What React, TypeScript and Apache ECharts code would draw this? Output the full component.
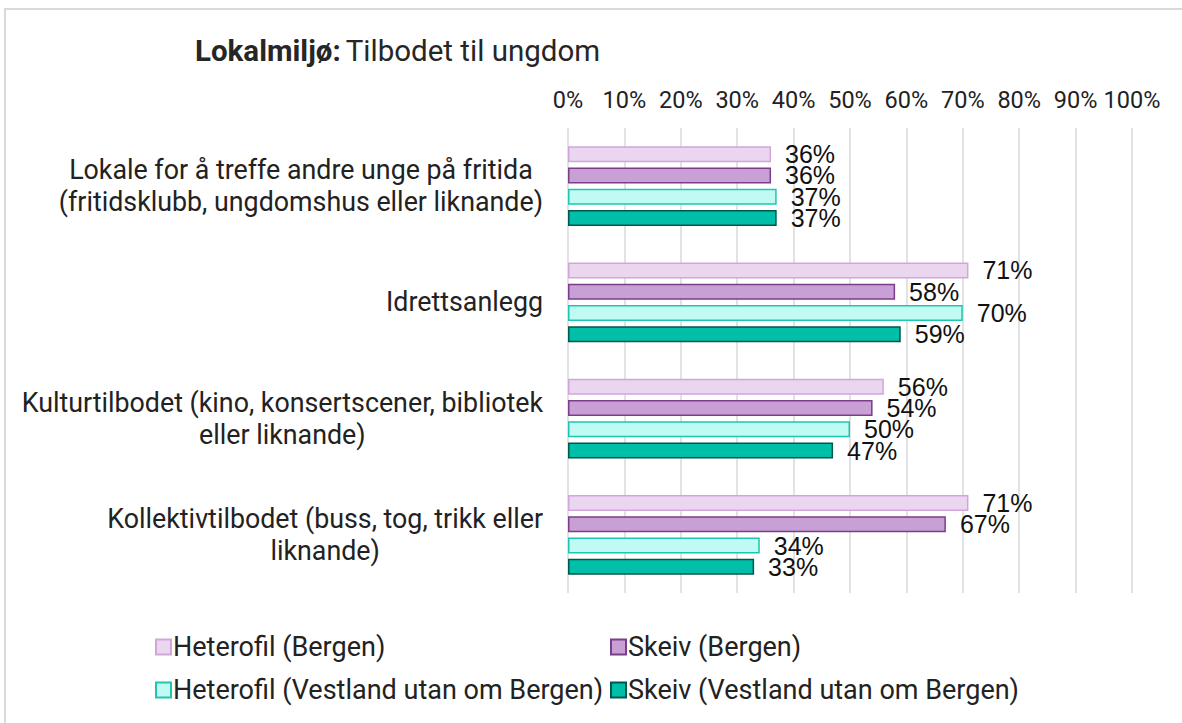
import React, { useEffect, useRef } from 'react';
import * as echarts from 'echarts';

const categories = [
  'Lokale for å treffe andre unge på fritida\n(fritidsklubb, ungdomshus eller liknande)',
  'Idrettsanlegg',
  'Kulturtilbodet (kino, konsertscener, bibliotek\neller liknande)',
  'Kollektivtilbodet (buss, tog, trikk eller\nliknande)',
];
const seriesNames = [
  'Heterofil (Bergen)',
  'Skeiv (Bergen)',
  'Heterofil (Vestland utan om Bergen)',
  'Skeiv (Vestland utan om Bergen)',
];
const heterofilBergen = [36, 71, 56, 71];
const skeivBergen = [36, 58, 54, 67];
const heterofilVestland = [37, 70, 50, 34];
const skeivVestland = [37, 59, 47, 33];
const seriesValues = [heterofilBergen, skeivBergen, heterofilVestland, skeivVestland];
const fills = ['#EAD6EE', '#C9A0D5', '#C0FBF3', '#00BFA9'];
const borders = ['#D2A6DA', '#7A3E8B', '#1EC6B2', '#00574C'];

const FONT = 'Roboto';

export default function App() {
  const ref = useRef<HTMLDivElement>(null);
  useEffect(() => {
    if (!ref.current) return;
    const chart = echarts.init(ref.current, undefined, { renderer: 'svg' });
    const legendText = { fontFamily: FONT, fontSize: 27, lineHeight: 28, color: '#222', padding: [0, 0, 0, -3] };
    const option: any = {
      animation: false,
      backgroundColor: '#ffffff',
      graphic: [
        {
          type: 'rect',
          shape: { x: 5, y: 9, width: 1300, height: 900 },
          style: { fill: 'none', stroke: '#d9d9d9', lineWidth: 2 },
          silent: true,
        },
      ],
      title: {
        left: 190,
        top: 31,
        text: '{b|Lokalmiljø:} {r|Tilbodet til ungdom}',
        textStyle: {
          fontWeight: 'normal',
          rich: {
            b: { fontFamily: FONT, fontSize: 29.5, fontWeight: 'bold', color: '#262626' },
            r: { fontFamily: FONT, fontSize: 29.5, fontWeight: 'normal', color: '#262626' },
          },
        },
      },
      grid: { left: 568, right: 50, top: 128, bottom: 130, containLabel: false },
      xAxis: {
        type: 'value',
        position: 'top',
        min: 0,
        max: 100,
        interval: 10,
        axisLine: { show: false },
        axisTick: { show: false },
        axisLabel: {
          formatter: '{value}%',
          fontFamily: FONT,
          fontSize: 23.5,
          color: '#222',
          margin: 16,
        },
        splitLine: { show: true, lineStyle: { color: '#d9d9d9', width: 1.5 } },
      },
      yAxis: {
        type: 'category',
        inverse: true,
        data: categories,
        axisLine: { show: false },
        axisTick: { show: false },
        axisLabel: {
          margin: 25,
          align: 'right',
          formatter: (v: string) =>
            v
              .split('\n')
              .map((l) => `{c|${l}}`)
              .join('\n'),
          rich: {
            c: { align: 'center', fontFamily: FONT, fontSize: 26.8, color: '#222', lineHeight: 32 },
          },
        },
      },
      legend: [
        {
          orient: 'vertical',
          left: 150,
          top: 628,
          itemGap: 15,
          itemWidth: 15,
          itemHeight: 15,
          icon: 'rect',
          data: [seriesNames[0], seriesNames[2]],
          textStyle: legendText,
        },
        {
          orient: 'vertical',
          left: 605,
          top: 628,
          itemGap: 15,
          itemWidth: 15,
          itemHeight: 15,
          icon: 'rect',
          data: [seriesNames[1], seriesNames[3]],
          textStyle: legendText,
        },
      ],
      series: seriesValues.map((vals, i) => ({
        type: 'bar',
        name: seriesNames[i],
        data: vals,
        barWidth: 16,
        barGap: '33%',
        barCategoryGap: '32%',
        itemStyle: { color: fills[i], borderColor: borders[i], borderWidth: 1.5 },
        label: {
          show: true,
          position: 'right',
          distance: 14,
          formatter: (p: any) => `${Math.round(p.value)}%`,
          fontFamily: 'Liberation Sans',
          fontSize: 25,
          color: '#111',
        },
      })),
    };
    chart.setOption(option);
    return () => chart.dispose();
  }, []);
  return (
    <div
      ref={ref}
      style={{ position: 'fixed', left: 0, top: 0, width: 1182, height: 723 }}
    />
  );
}
